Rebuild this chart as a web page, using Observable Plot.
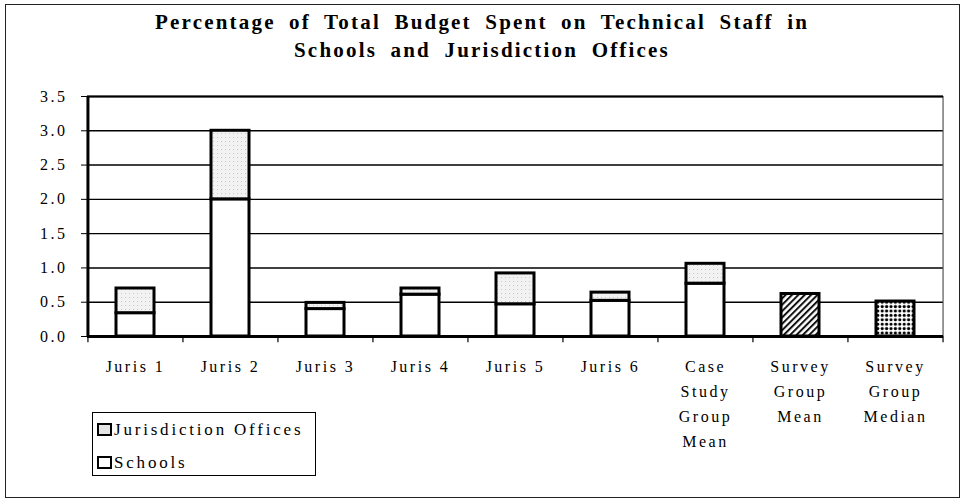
<!DOCTYPE html>
<html>
<head>
<meta charset="utf-8">
<script src="https://cdn.jsdelivr.net/npm/d3@7"></script>
<script src="https://cdn.jsdelivr.net/npm/@observablehq/plot@0.6"></script>
<style>
  body { margin: 0; background: #fff; }
  #wrap { position: relative; width: 964px; height: 503px; overflow: hidden; background: #fff; }
  #frame { position: absolute; left: 5px; top: 4px; width: 955px; height: 494px; border: 1px solid #222; box-sizing: border-box; }
  #title { position: absolute; left: 0; top: 8px; width: 964px; text-align: center;
    font-family: "Liberation Serif", "Times New Roman", serif; font-weight: bold; font-size: 21px;
    letter-spacing: 2.2px; word-spacing: 6px; line-height: 28px; color: #000; }
  #chart { position: absolute; left: 0; top: 80px; }
  #legend { position: absolute; left: 92px; top: 412px; width: 224px; height: 64px; border: 1px solid #000;
    box-sizing: border-box; font-family: "Liberation Serif", "Times New Roman", serif; font-size: 17px;
    letter-spacing: 2.8px; color: #000; }
  .item { position: absolute; left: 4px; height: 22px; line-height: 22px; white-space: nowrap; }
  .sw { display: inline-block; width: 11px; height: 9px; border: 2.5px solid #000; vertical-align: -1px; margin-right: 2px; }
</style>
</head>
<body>
<div id="wrap">
  <div id="frame"></div>
  <div id="title">Percentage of Total Budget Spent on Technical Staff in<br>Schools and Jurisdiction Offices</div>
  <div id="chart"></div>
  <div id="legend">
    <div class="item" style="top:6px"><span class="sw" style="background:#e4e4e4"></span>Jurisdiction Offices</div>
    <div class="item" style="top:39px"><span class="sw" style="background:#fff"></span>Schools</div>
  </div>
</div>
<script>
// ---- data ----
const categories = ["Juris 1", "Juris 2", "Juris 3", "Juris 4", "Juris 5", "Juris 6",
  "Case Study Group Mean", "Survey Group Mean", "Survey Group Median"];
const tickLabels = ["Juris 1", "Juris 2", "Juris 3", "Juris 4", "Juris 5", "Juris 6",
  "Case\nStudy\nGroup\nMean", "Survey\nGroup\nMean", "Survey\nGroup\nMedian"];
const stackedCategories = ["Juris 1", "Juris 2", "Juris 3", "Juris 4", "Juris 5", "Juris 6", "Case Study Group Mean"];
const schools =             [0.34, 2.00, 0.40, 0.61, 0.47, 0.52, 0.77];
const jurisdictionOffices = [0.36, 1.00, 0.09, 0.09, 0.45, 0.12, 0.29];
const surveyMean = 0.62;
const surveyMedian = 0.51;
const yTicks = [0, 0.5, 1.0, 1.5, 2.0, 2.5, 3.0, 3.5];

// ---- build rows ----
const schoolRows = stackedCategories.map((c, i) => ({category: c, y1: 0, y2: schools[i]}));
const officeRows = stackedCategories.map((c, i) => ({category: c, y1: schools[i], y2: schools[i] + jurisdictionOffices[i]}));
const meanRows = [{category: "Survey Group Mean", value: surveyMean}];
const medianRows = [{category: "Survey Group Median", value: surveyMedian}];
const labelOf = new Map(categories.map((c, i) => [c, tickLabels[i]]));

const W = 964, H = 423, ML = 87, MR = 21, MT = 16, MB = 167;
const step = (W - ML - MR) / categories.length;

const chart = Plot.plot({
  width: W, height: H,
  marginLeft: ML, marginRight: MR, marginTop: MT, marginBottom: MB,
  style: {fontFamily: "'Liberation Serif', 'Times New Roman', serif", fontSize: "16px", letterSpacing: "2.5px", background: "transparent", color: "#000", overflow: "visible"},
  x: {domain: categories, paddingInner: 0.6, paddingOuter: 0.3, label: null},
  y: {domain: [0, 3.5], label: null},
  marks: [
    Plot.ruleY(yTicks, {stroke: "#000", strokeWidth: 1.4}),
    Plot.barY(schoolRows, {x: "category", y1: "y1", y2: "y2", fill: "#fff", stroke: "#000", strokeWidth: 3}),
    Plot.barY(officeRows, {x: "category", y1: "y1", y2: "y2", fill: "url(#offices)", stroke: "#000", strokeWidth: 3}),
    Plot.barY(meanRows, {x: "category", y: "value", fill: "url(#hatch)", stroke: "#000", strokeWidth: 3}),
    Plot.barY(medianRows, {x: "category", y: "value", fill: "url(#dots)", stroke: "#000", strokeWidth: 3}),
    // right frame edge (thin)
    Plot.ruleX([categories[categories.length - 1]], {x: d => d, dx: step / 2, y1: 0, y2: 3.5, stroke: "#555", strokeWidth: 1.2}),
    // left axis line (thick)
    Plot.ruleX([categories[0]], {x: d => d, dx: -step / 2, y1: 0, y2: 3.5, stroke: "#000", strokeWidth: 3}),
    // baseline (thick) and top edge
    Plot.ruleY([0], {stroke: "#000", strokeWidth: 3}),
    Plot.ruleY([3.5], {stroke: "#000", strokeWidth: 2}),
    // category boundary ticks below the axis
    Plot.ruleX(categories, {x: d => d, dx: -step / 2, y1: 0, y2: -0.09, stroke: "#000", strokeWidth: 1.2}),
    Plot.ruleX([categories[categories.length - 1]], {x: d => d, dx: step / 2, y1: 0, y2: -0.09, stroke: "#000", strokeWidth: 1.2}),
    Plot.axisY({ticks: yTicks, tickSize: 6, tickPadding: 14, tickFormat: d3.format(".1f"), label: null}),
    Plot.axisX({tickSize: 0, tickPadding: 18, lineHeight: 1.55, tickFormat: d => labelOf.get(d), label: null})
  ]
});

// pattern definitions
const defs = d3.create("svg:defs");
const off = defs.append("pattern").attr("id", "offices").attr("patternUnits", "userSpaceOnUse").attr("width", 4).attr("height", 4);
off.append("rect").attr("width", 4).attr("height", 4).attr("fill", "#f2f2f2");
off.append("rect").attr("x", 1).attr("y", 1).attr("width", 1).attr("height", 1).attr("fill", "#c8c8c8");
const hatch = defs.append("pattern").attr("id", "hatch").attr("patternUnits", "userSpaceOnUse").attr("width", 4.5).attr("height", 4.5).attr("patternTransform", "rotate(45)");
hatch.append("rect").attr("width", 4.5).attr("height", 4.5).attr("fill", "#fff");
hatch.append("rect").attr("width", 2).attr("height", 4.5).attr("fill", "#111");
const dots = defs.append("pattern").attr("id", "dots").attr("patternUnits", "userSpaceOnUse").attr("width", 4.4).attr("height", 4.4);
dots.append("rect").attr("width", 4.4).attr("height", 4.4).attr("fill", "#fff");
dots.append("circle").attr("cx", 2.2).attr("cy", 2.2).attr("r", 1.6).attr("fill", "#000");
chart.insertBefore(defs.node(), chart.firstChild);

document.getElementById("chart").appendChild(chart);
</script>
</body>
</html>
